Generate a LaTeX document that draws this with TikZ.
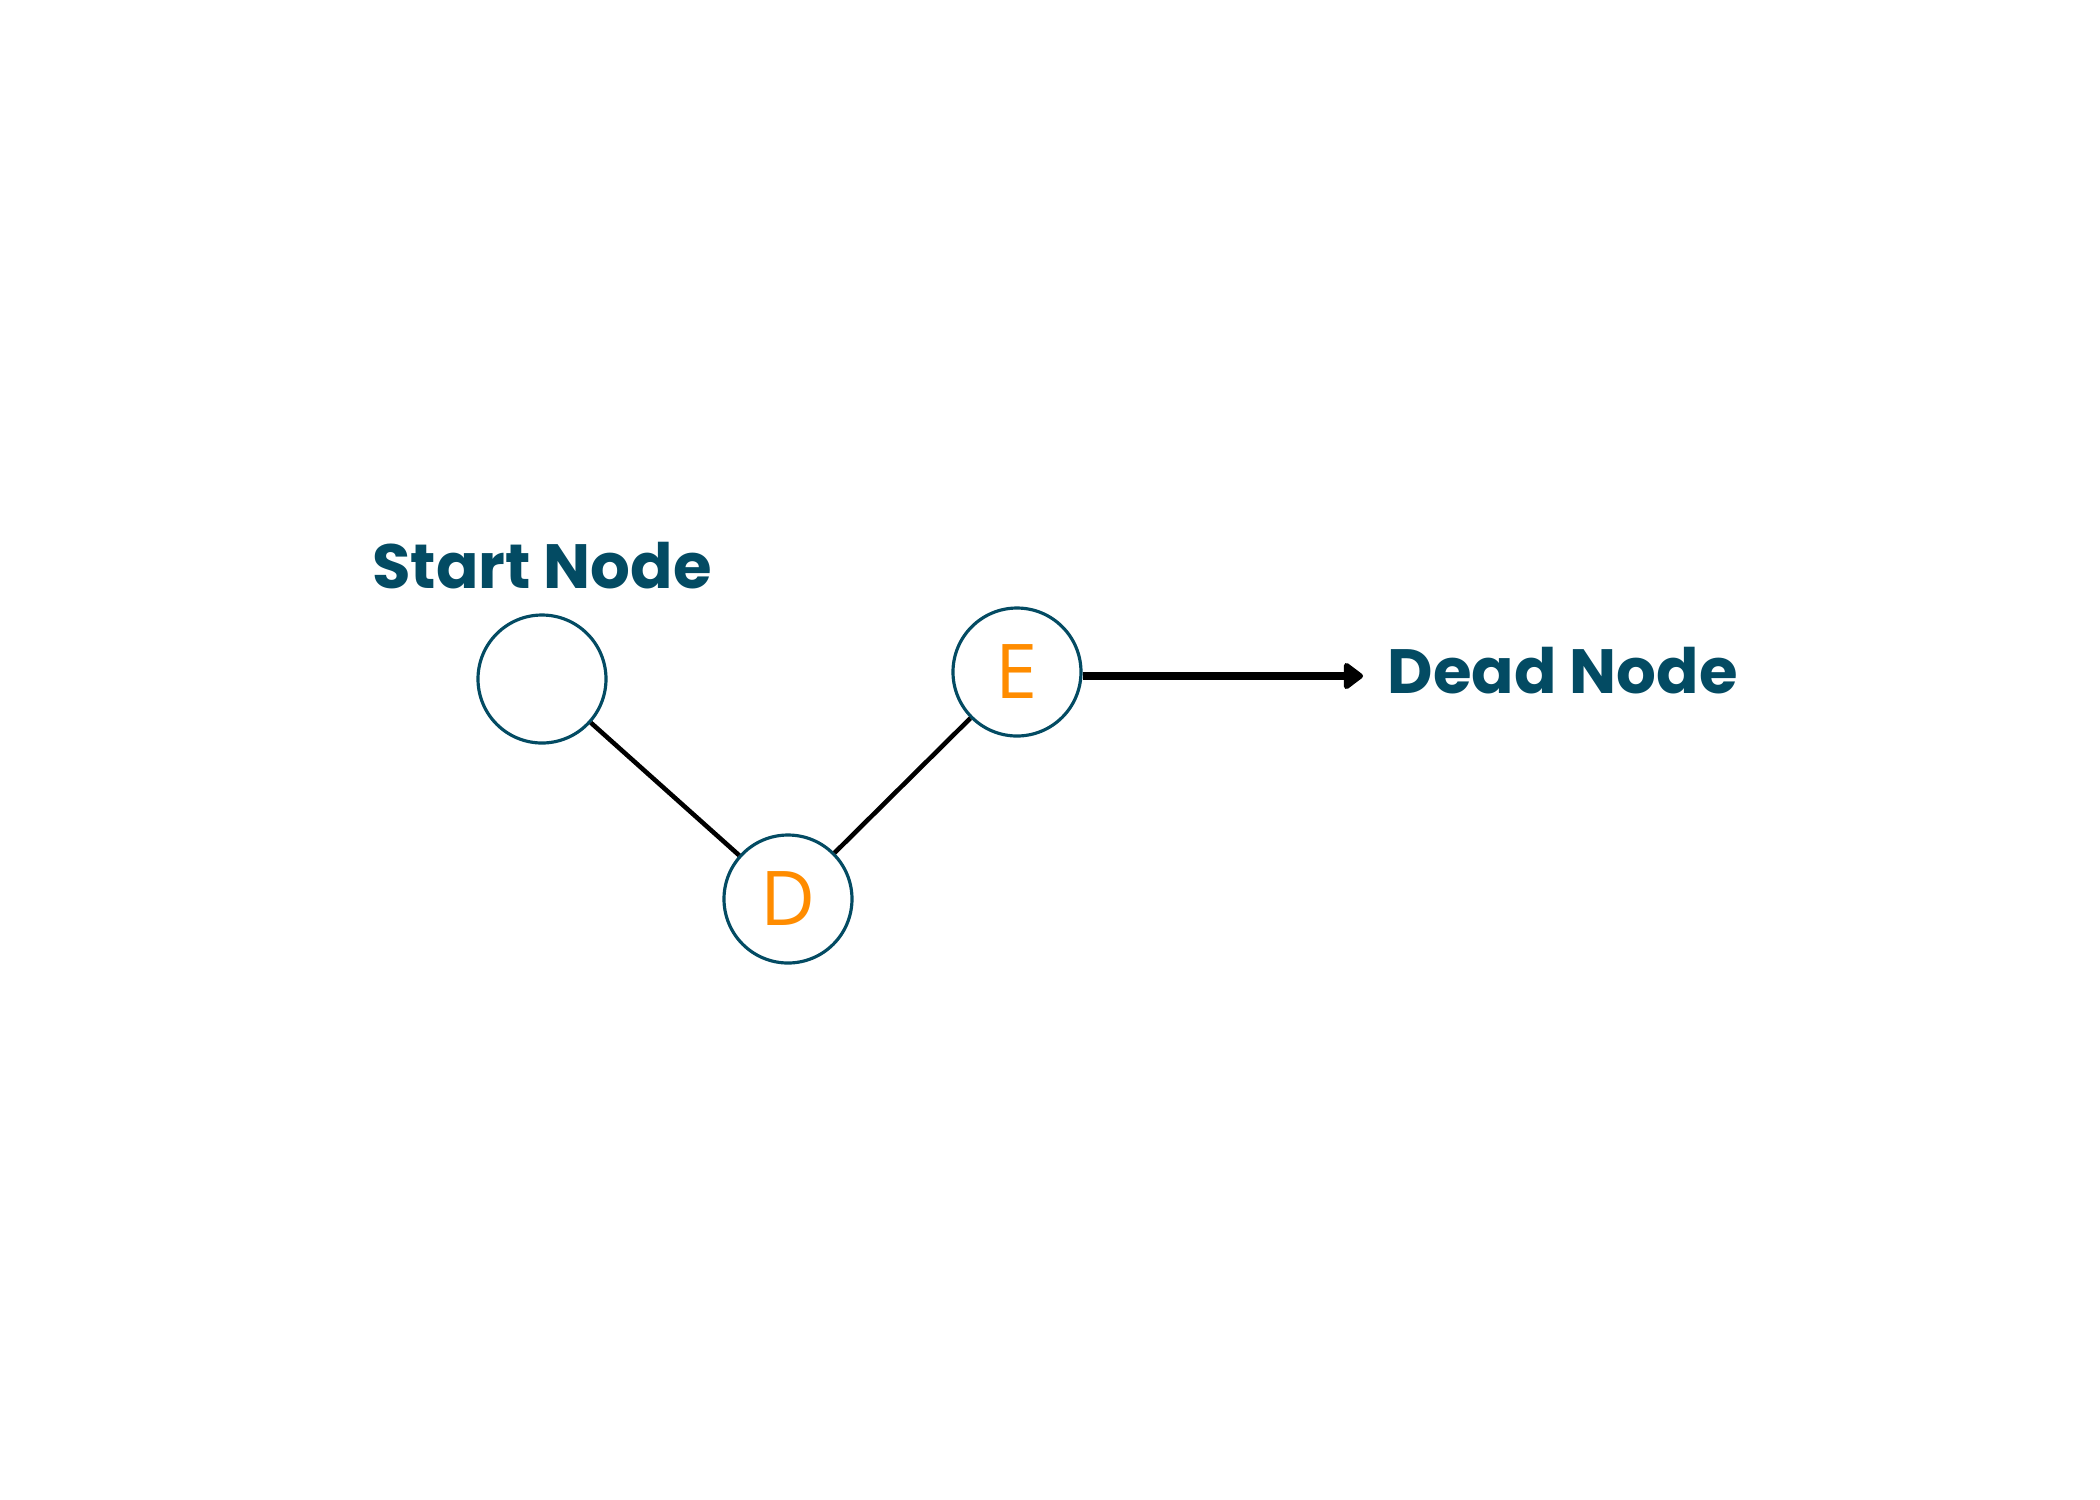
\documentclass[tikz,border=0pt]{standalone}
\usepackage{fontspec}
\usepackage{tikz}
\usetikzlibrary{arrows.meta, positioning}
\newfontfamily\labelfont{Poppins}[UprightFont=* Bold]
\newfontfamily\letterfont{Open Sans}
\definecolor{deepteal}{HTML}{034B63}
\definecolor{tagorange}{HTML}{FF8C00}

\begin{document}
\begin{tikzpicture}[
  vertex/.style={draw=deepteal, line width=0.9pt, circle, minimum size=1.28cm, inner sep=0pt,
                 font=\letterfont\fontsize{21.5}{21.5}\selectfont, text=tagorange},
  tag/.style={font=\labelfont\fontsize{17.8}{17.8}\selectfont, text=deepteal},
  link/.style={black, line width=1.3pt}
]
\useasboundingbox (0,0) rectangle (21,-15);

% Path nodes
\node[vertex] (start) at (5.42,-6.79) {};
\node[vertex] (d) at (7.88,-8.99) {D};
\node[vertex] (e) at (10.17,-6.72) {E};

% Labels
\node[tag, anchor=base] (startlbl) at (5.42,-5.88) {Start Node};
\node[tag, anchor=base west, inner sep=0pt] (deadlbl) at (13.87,-6.93) {Dead Node};
\coordinate (tip) at (13.63,-6.76);

\draw[link] (start) -- (d);
\draw[link] (d) -- (e);
\draw[-{Triangle[round, length=2.1mm, width=3mm]}, line width=2pt] (e.east |- tip) -- (tip);
\end{tikzpicture}
\end{document}
